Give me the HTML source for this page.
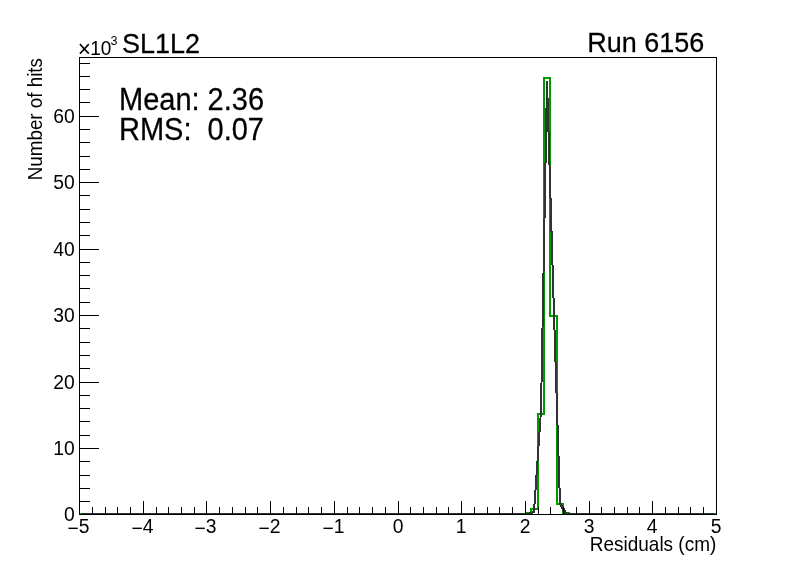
<!DOCTYPE html>
<html lang="en"><head><meta charset="utf-8"><title>SL1L2 Run 6156</title>
<style>html,body{margin:0;padding:0;background:#fff;}body{width:796px;height:572px;overflow:hidden;}svg{display:block;will-change:transform;}text{font-family:"Liberation Sans",sans-serif;fill:#000;}</style></head><body>
<svg width="796" height="572" viewBox="0 0 796 572">
<rect x="0" y="0" width="796" height="572" fill="#fff"/>
<path d="M80,514 L526,514 L526,513 L531,513 L531,509 L538,509 L538,414 L544,414 L544,78 L550,78 L550,316 L557,316 L557,504 L563,504 L563,513 L569,513 L569,514 L716,514" fill="none" stroke="#009900" stroke-width="2" stroke-linejoin="miter" stroke-linecap="butt" shape-rendering="crispEdges"/>
<path d="M82,514 L528,514 L534,512 L541,410.5 L547,81 L554,314 L560,503 L566,514 L714,514" fill="none" stroke="#333333" stroke-width="2" stroke-linejoin="bevel" stroke-linecap="butt" shape-rendering="crispEdges"/>
<path d="M560,503 L566,514" fill="none" stroke="#333333" stroke-width="2.9" shape-rendering="crispEdges"/>
<g stroke="#000" stroke-width="1" fill="none" shape-rendering="crispEdges">
<rect x="79.5" y="57.5" width="637" height="457"/>
<line x1="79.5" y1="515" x2="79.5" y2="501"/>
<line x1="92.5" y1="515" x2="92.5" y2="507"/>
<line x1="105.5" y1="515" x2="105.5" y2="507"/>
<line x1="117.5" y1="515" x2="117.5" y2="507"/>
<line x1="130.5" y1="515" x2="130.5" y2="507"/>
<line x1="143.5" y1="515" x2="143.5" y2="501"/>
<line x1="156.5" y1="515" x2="156.5" y2="507"/>
<line x1="168.5" y1="515" x2="168.5" y2="507"/>
<line x1="181.5" y1="515" x2="181.5" y2="507"/>
<line x1="194.5" y1="515" x2="194.5" y2="507"/>
<line x1="206.5" y1="515" x2="206.5" y2="501"/>
<line x1="219.5" y1="515" x2="219.5" y2="507"/>
<line x1="232.5" y1="515" x2="232.5" y2="507"/>
<line x1="245.5" y1="515" x2="245.5" y2="507"/>
<line x1="257.5" y1="515" x2="257.5" y2="507"/>
<line x1="270.5" y1="515" x2="270.5" y2="501"/>
<line x1="283.5" y1="515" x2="283.5" y2="507"/>
<line x1="296.5" y1="515" x2="296.5" y2="507"/>
<line x1="308.5" y1="515" x2="308.5" y2="507"/>
<line x1="321.5" y1="515" x2="321.5" y2="507"/>
<line x1="334.5" y1="515" x2="334.5" y2="501"/>
<line x1="347.5" y1="515" x2="347.5" y2="507"/>
<line x1="359.5" y1="515" x2="359.5" y2="507"/>
<line x1="372.5" y1="515" x2="372.5" y2="507"/>
<line x1="385.5" y1="515" x2="385.5" y2="507"/>
<line x1="398.5" y1="515" x2="398.5" y2="501"/>
<line x1="410.5" y1="515" x2="410.5" y2="507"/>
<line x1="423.5" y1="515" x2="423.5" y2="507"/>
<line x1="436.5" y1="515" x2="436.5" y2="507"/>
<line x1="448.5" y1="515" x2="448.5" y2="507"/>
<line x1="461.5" y1="515" x2="461.5" y2="501"/>
<line x1="474.5" y1="515" x2="474.5" y2="507"/>
<line x1="487.5" y1="515" x2="487.5" y2="507"/>
<line x1="499.5" y1="515" x2="499.5" y2="507"/>
<line x1="512.5" y1="515" x2="512.5" y2="507"/>
<line x1="525.5" y1="515" x2="525.5" y2="501"/>
<line x1="538.5" y1="515" x2="538.5" y2="507"/>
<line x1="550.5" y1="515" x2="550.5" y2="507"/>
<line x1="563.5" y1="515" x2="563.5" y2="507"/>
<line x1="576.5" y1="515" x2="576.5" y2="507"/>
<line x1="589.5" y1="515" x2="589.5" y2="501"/>
<line x1="601.5" y1="515" x2="601.5" y2="507"/>
<line x1="614.5" y1="515" x2="614.5" y2="507"/>
<line x1="627.5" y1="515" x2="627.5" y2="507"/>
<line x1="639.5" y1="515" x2="639.5" y2="507"/>
<line x1="652.5" y1="515" x2="652.5" y2="501"/>
<line x1="665.5" y1="515" x2="665.5" y2="507"/>
<line x1="678.5" y1="515" x2="678.5" y2="507"/>
<line x1="690.5" y1="515" x2="690.5" y2="507"/>
<line x1="703.5" y1="515" x2="703.5" y2="507"/>
<line x1="716.5" y1="515" x2="716.5" y2="501"/>
<line x1="79" y1="514.5" x2="99" y2="514.5"/>
<line x1="79" y1="501.5" x2="90" y2="501.5"/>
<line x1="79" y1="488.5" x2="90" y2="488.5"/>
<line x1="79" y1="475.5" x2="90" y2="475.5"/>
<line x1="79" y1="461.5" x2="90" y2="461.5"/>
<line x1="79" y1="448.5" x2="99" y2="448.5"/>
<line x1="79" y1="435.5" x2="90" y2="435.5"/>
<line x1="79" y1="421.5" x2="90" y2="421.5"/>
<line x1="79" y1="408.5" x2="90" y2="408.5"/>
<line x1="79" y1="395.5" x2="90" y2="395.5"/>
<line x1="79" y1="382.5" x2="99" y2="382.5"/>
<line x1="79" y1="368.5" x2="90" y2="368.5"/>
<line x1="79" y1="355.5" x2="90" y2="355.5"/>
<line x1="79" y1="342.5" x2="90" y2="342.5"/>
<line x1="79" y1="328.5" x2="90" y2="328.5"/>
<line x1="79" y1="315.5" x2="99" y2="315.5"/>
<line x1="79" y1="302.5" x2="90" y2="302.5"/>
<line x1="79" y1="288.5" x2="90" y2="288.5"/>
<line x1="79" y1="275.5" x2="90" y2="275.5"/>
<line x1="79" y1="262.5" x2="90" y2="262.5"/>
<line x1="79" y1="249.5" x2="99" y2="249.5"/>
<line x1="79" y1="235.5" x2="90" y2="235.5"/>
<line x1="79" y1="222.5" x2="90" y2="222.5"/>
<line x1="79" y1="209.5" x2="90" y2="209.5"/>
<line x1="79" y1="195.5" x2="90" y2="195.5"/>
<line x1="79" y1="182.5" x2="99" y2="182.5"/>
<line x1="79" y1="169.5" x2="90" y2="169.5"/>
<line x1="79" y1="156.5" x2="90" y2="156.5"/>
<line x1="79" y1="142.5" x2="90" y2="142.5"/>
<line x1="79" y1="129.5" x2="90" y2="129.5"/>
<line x1="79" y1="116.5" x2="99" y2="116.5"/>
<line x1="79" y1="102.5" x2="90" y2="102.5"/>
<line x1="79" y1="89.5" x2="90" y2="89.5"/>
<line x1="79" y1="76.5" x2="90" y2="76.5"/>
<line x1="79" y1="63.5" x2="90" y2="63.5"/>
</g>
<text transform="translate(78.6,533.3) scale(1,1.04)" font-size="19.3" text-anchor="middle" ><tspan dy="1.2">−</tspan><tspan dy="-1.2">5</tspan></text>
<text transform="translate(142.6,533.3) scale(1,1.04)" font-size="19.3" text-anchor="middle" ><tspan dy="1.2">−</tspan><tspan dy="-1.2">4</tspan></text>
<text transform="translate(205.6,533.3) scale(1,1.04)" font-size="19.3" text-anchor="middle" ><tspan dy="1.2">−</tspan><tspan dy="-1.2">3</tspan></text>
<text transform="translate(269.6,533.3) scale(1,1.04)" font-size="19.3" text-anchor="middle" ><tspan dy="1.2">−</tspan><tspan dy="-1.2">2</tspan></text>
<text transform="translate(333.6,533.3) scale(1,1.04)" font-size="19.3" text-anchor="middle" ><tspan dy="1.2">−</tspan><tspan dy="-1.2">1</tspan></text>
<text transform="translate(398.2,533.3) scale(1,1.04)" font-size="19.3" text-anchor="middle" >0</text>
<text transform="translate(461.2,533.3) scale(1,1.04)" font-size="19.3" text-anchor="middle" >1</text>
<text transform="translate(525.2,533.3) scale(1,1.04)" font-size="19.3" text-anchor="middle" >2</text>
<text transform="translate(589.2,533.3) scale(1,1.04)" font-size="19.3" text-anchor="middle" >3</text>
<text transform="translate(652.2,533.3) scale(1,1.04)" font-size="19.3" text-anchor="middle" >4</text>
<text transform="translate(716.2,533.3) scale(1,1.04)" font-size="19.3" text-anchor="middle" >5</text>
<text transform="translate(74.8,521.3) scale(1,1.04)" font-size="19.3" text-anchor="end" >0</text>
<text transform="translate(74.8,455.3) scale(1,1.04)" font-size="19.3" text-anchor="end" >10</text>
<text transform="translate(74.8,389.3) scale(1,1.04)" font-size="19.3" text-anchor="end" >20</text>
<text transform="translate(74.8,322.3) scale(1,1.04)" font-size="19.3" text-anchor="end" >30</text>
<text transform="translate(74.8,256.3) scale(1,1.04)" font-size="19.3" text-anchor="end" >40</text>
<text transform="translate(74.8,189.3) scale(1,1.04)" font-size="19.3" text-anchor="end" >50</text>
<text transform="translate(74.8,123.3) scale(1,1.04)" font-size="19.3" text-anchor="end" >60</text>
<text transform="translate(716.3,550.5) scale(1,1.03)" font-size="19.0" text-anchor="end" >Residuals (cm)</text>
<text transform="translate(42.3,58.0) rotate(-90) scale(1,1.03)" font-size="18.8" text-anchor="end">Number of hits</text>
<text transform="scale(1,1.04)"><tspan x="77.7" y="54.9" font-size="22.6">×</tspan><tspan x="90.3" y="52.75" font-size="19">10</tspan><tspan x="110.5" y="43.45" font-size="12.6">3</tspan></text>
<text transform="translate(122,53.2) scale(1,1.05)" font-size="27" text-anchor="start" stroke="#000" stroke-width="0.25">SL1L2</text>
<text transform="translate(704.3,52.2) scale(1,1.05)" font-size="27" text-anchor="end" stroke="#000" stroke-width="0.25">Run 6156</text>
<text transform="translate(119,110.0) scale(1,1.05)" font-size="29" text-anchor="start" stroke="#000" stroke-width="0.25">Mean: 2.36</text>
<text transform="translate(119,140.1) scale(1,1.05)" font-size="29" text-anchor="start" stroke="#000" stroke-width="0.25" xml:space="preserve">RMS:  0.07</text>
</svg></body></html>
